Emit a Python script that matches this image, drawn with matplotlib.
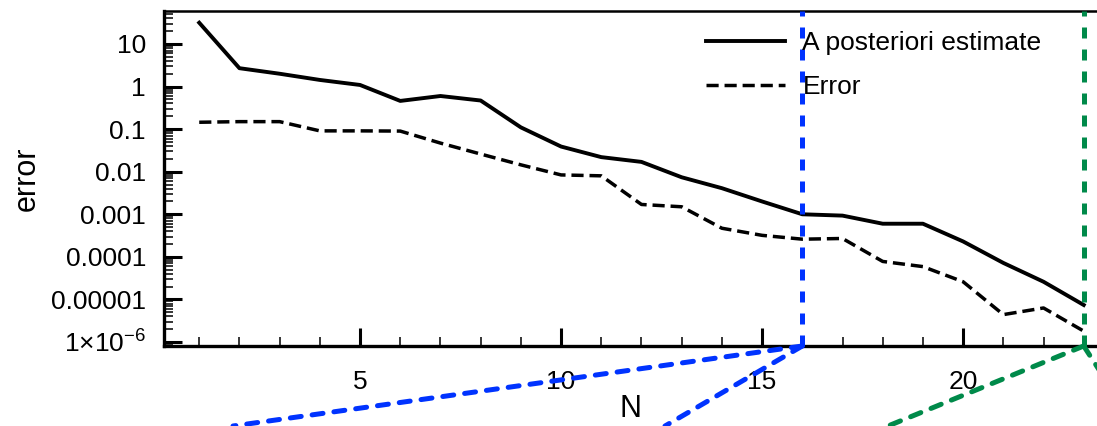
import matplotlib
matplotlib.use("Agg")
import matplotlib.pyplot as plt
from matplotlib.patches import ConnectionPatch
from matplotlib.ticker import FixedLocator, LogLocator, NullFormatter, MultipleLocator

plt.rcParams['font.family'] = ['Liberation Sans', 'DejaVu Sans']
plt.rcParams['mathtext.fontset'] = 'custom'
plt.rcParams['mathtext.rm'] = 'Liberation Sans'
plt.rcParams['mathtext.it'] = 'Liberation Sans'

# data
N = list(range(1, 24))
estimate = [31.6, 2.7, 2.0, 1.43, 1.09, 0.46, 0.6, 0.47, 0.11, 0.039, 0.022, 0.017,
            0.0074, 0.0041, 0.002, 0.001, 0.00093, 0.0006, 0.0006, 0.00023,
            7.2e-5, 2.6e-5, 7.4e-6]
error = [0.145, 0.15, 0.15, 0.091, 0.091, 0.09, 0.047, 0.026, 0.0145, 0.0084, 0.008,
         0.0017, 0.0015, 0.00047, 0.00032, 0.00026, 0.00027, 7.8e-5, 5.9e-5, 2.6e-5,
         4.4e-6, 6.3e-6, 1.8e-6]
ytick_vals = [10, 1, 0.1, 0.01, 0.001, 0.0001, 0.00001, 1e-6]
ytick_labels = ['10', '1', '0.1', '0.01', '0.001', '0.0001', '0.00001', r'1$\times$10$^{-6}$']
zoom_n = [16, 23]

blue = '#0033ff'
green = '#008a4a'

fig = plt.figure(figsize=(10.97, 4.26), dpi=100)
ax = fig.add_axes([0.1495, 0.1878, 0.8505, 0.7864])

ax.plot(N, estimate, '-', color='black', lw=2.8, label='A posteriori estimate')
ax.plot(N, error, '--', color='black', lw=2.5, dashes=(3.5, 1.7), label='Error')

ax.set_yscale('log')
ax.set_xlim(0.124, 23.33)
ax.set_ylim(10 ** -6.094, 10 ** 1.775)

ax.yaxis.set_major_locator(FixedLocator(ytick_vals))
ax.set_yticklabels(ytick_labels)
ax.yaxis.set_minor_locator(LogLocator(base=10, subs=range(2, 10), numticks=20))
ax.yaxis.set_minor_formatter(NullFormatter())
ax.xaxis.set_major_locator(MultipleLocator(5))
ax.xaxis.set_minor_locator(MultipleLocator(1))

ax.tick_params(which='both', direction='in', labelsize=19)
ax.tick_params(which='major', length=13, width=2.2)
ax.tick_params(which='minor', length=6.5, width=1.1)
ax.tick_params(axis='y', pad=13)
ax.tick_params(axis='x', pad=17)
ax.spines['right'].set_visible(False)
for s in ['left', 'bottom']:
    ax.spines[s].set_linewidth(2.4)
ax.spines['top'].set_linewidth(1.8)

ax.set_xlabel('N', fontsize=22, labelpad=0)
ax.set_ylabel('error', fontsize=22)
ax.yaxis.set_label_coords(-0.131, 0.5)

ax.legend(loc='upper left', bbox_to_anchor=(0.581, 0.94), frameon=False, fontsize=19,
          handlelength=3.0, handletextpad=0.65, labelspacing=0.75, borderpad=0,
          borderaxespad=0)

# zoom marker lines
ymin = ax.get_ylim()[0]
ymax = ax.get_ylim()[1]
ax.plot([zoom_n[0], zoom_n[0]], [ymin, ymax], color=blue, lw=3.6, dashes=(2.2, 2.2),
        clip_on=False, zorder=5)
ax.plot([zoom_n[1], zoom_n[1]], [ymin, ymax], color=green, lw=3.6, dashes=(2.2, 2.2),
        clip_on=False, zorder=5)

for color, n, ends in [(blue, zoom_n[0], [(233 / 1097, 0.0), (665 / 1097, 0.0)]),
                       (green, zoom_n[1], [(888 / 1097, 0.0), (1.05, -0.06)])]:
    for end in ends:
        con = ConnectionPatch(xyA=(n, ymin), coordsA='data', axesA=ax,
                              xyB=end, coordsB='figure fraction',
                              color=color, lw=3.6, linestyle=(0, (2.2, 2.2)))
        con.set_clip_on(False)
        fig.add_artist(con)

fig.savefig('out.png', dpi=100)
